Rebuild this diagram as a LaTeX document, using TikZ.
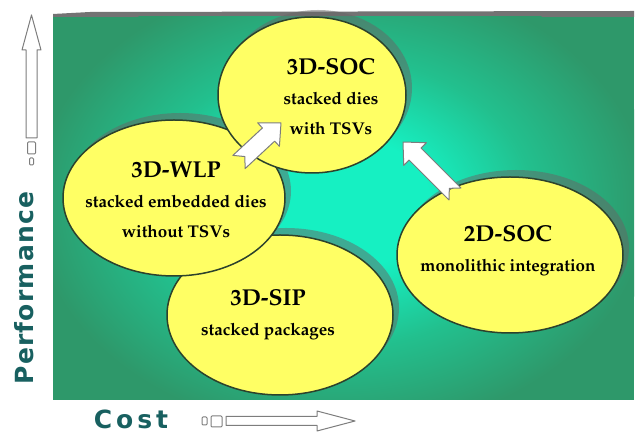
\documentclass[tikz,border=0pt]{standalone}
\usepackage[T1]{fontenc}
\usepackage{fontspec}
\usetikzlibrary{shapes.geometric,shadows,calc}

\newfontfamily\axisfont{DejaVu Sans}
\newcommand\bubblefont{\fontencoding{T1}\fontfamily{ppl}\fontseries{b}\selectfont}
\newcommand\bubbletitle{\fontsize{23}{30}\selectfont}

\definecolor{glowin}{RGB}{22,240,194}
\definecolor{glowmid}{RGB}{34,192,142}
\definecolor{glowout}{RGB}{46,152,106}
\definecolor{bubblefill}{RGB}{255,255,100}
\definecolor{bubbleline}{RGB}{44,66,44}
\definecolor{axisteal}{RGB}{24,96,96}
\definecolor{arrowline}{RGB}{125,125,125}

\pgfdeclareradialshading{panelglow}{\pgfpoint{0bp}{0bp}}{color(0bp)=(glowin); color(7bp)=(glowin); color(15bp)=(glowmid); color(24bp)=(glowout); color(50bp)=(glowout)}

\tikzset{
  bubble/.style={ellipse, draw=bubbleline, line width=1.5pt, fill=bubblefill, inner sep=0pt,
    drop shadow={shadow xshift=6pt, shadow yshift=7pt, fill=black!60, opacity=.5}},
  bubbletext/.style={align=center, font=\bubblefont\fontsize{17}{30}\selectfont},
  arrowpaint/.style={fill=white, draw=arrowline, line width=1pt, line join=round},
  axislabel/.style={font=\axisfont\bfseries\fontsize{25}{25}\selectfont, text=axisteal},
  % #1 length, #2 tail notch, #3 half body, #4 head length, #5 half head
  pics/blockarrow/.style n args={5}{code={
    \draw[arrowpaint] (0,#3) -- ({#1-#4},#3) -- ({#1-#4},#5) -- (#1,0) -- ({#1-#4},-#5)
      -- ({#1-#4},-#3) -- (0,-#3) -- (#2,0) -- cycle;}}
}

% hollow block arrow from one named point to another
\newcommand\pushto[3]{%
  \path let \p1=($(#2)-(#1)$), \n1={atan2(\y1,\x1)}, \n2={veclen(\x1,\y1)} in
    (#1) pic[rotate=\n1] {blockarrow={\n2}#3};}

\begin{document}
\begin{tikzpicture}[x=1pt, y=1pt]
  \useasboundingbox (0,0) rectangle (635,433);

  % panel
  \fill[black!55] (53,416) -- (53,419) -- (90,421) -- (634,422) -- (634,416) -- cycle;
  \fill[glowout] (53,33) rectangle (634,416);
  \begin{scope}
    \clip (53,33) rectangle (634,416);
    \shade[shading=panelglow] (340,230) ellipse [x radius=320, y radius=240];
  \end{scope}

  % bubbles
  \node[bubble, minimum width=226, minimum height=160] (sip) at (280,118) {};
  \node[bubbletext] (siptext) at (268,118) {{\bubbletitle 3D-SIP}\\stacked packages};
  \node[bubble, minimum width=222, minimum height=156] (wlp) at (174,235) {};
  \node[bubbletext] (wlptext) at (176,233) {{\bubbletitle 3D-WLP}\\stacked embedded dies\\without TSVs};
  \node[bubble, minimum width=188, minimum height=156] (soc) at (312,338) {};
  \node[bubbletext] (soctext) at (331,336) {{\bubbletitle 3D-SOC}\\stacked dies\\with TSVs};
  \node[bubble, minimum width=226, minimum height=156] (soc2d) at (510,178) {};
  \node[bubbletext] (soc2dtext) at (508,182) {{\bubbletitle 2D-SOC}\\monolithic integration};

  % arrows between bubbles
  \coordinate (wlpout) at (239,271);
  \coordinate (socin) at (281,310);
  \coordinate (soc2dout) at (455,239);
  \coordinate (socin2) at (403,291);
  \pushto{wlpout}{socin}{{8}{9}{17}{16}}
  \pushto{soc2dout}{socin2}{{8}{8.5}{17}{16}}

  % axes
  \coordinate (perfbase) at (31.5,295);
  \coordinate (perftip) at (31.5,418);
  \pushto{perfbase}{perftip}{{0}{5.5}{35}{9.5}}
  \draw[arrowpaint, rounded corners=1pt] (27.5,279) rectangle (35.5,291);
  \draw[arrowpaint, rounded corners=1pt] (29.5,268) rectangle (33.5,275);
  \node[axislabel, rotate=90] (perf) at (24,145) {\addfontfeature{LetterSpace=5}Performance};

  \coordinate (costbase) at (226,12);
  \coordinate (costtip) at (355,12);
  \pushto{costbase}{costtip}{{0}{4.5}{38}{10}}
  \draw[arrowpaint, rounded corners=1pt] (211,6) rectangle (222,17);
  \draw[arrowpaint, rounded corners=1pt] (202,8) rectangle (207,16);
  \node[axislabel] (cost) at (131,14) {C\hspace{4pt}o\hspace{4pt}s\hspace{4pt}t};
\end{tikzpicture}
\end{document}
